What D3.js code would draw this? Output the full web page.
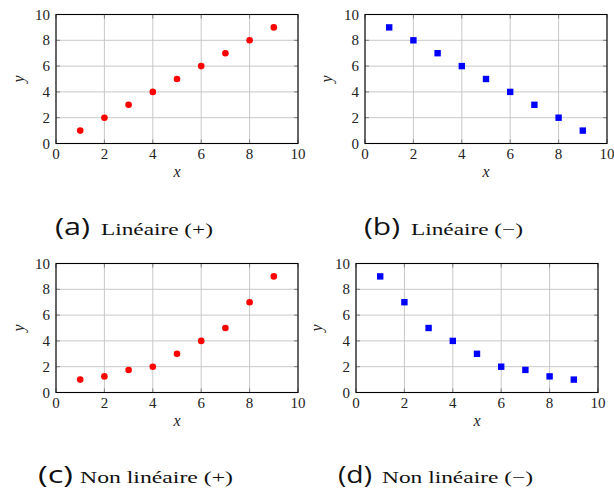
<!DOCTYPE html>
<html>
<head>
<meta charset="utf-8">
<script src="https://cdn.jsdelivr.net/npm/d3@7"></script>
<style>
  body { margin: 0; background: #fff; }
  svg { display: block; }
  .serif { font-family: "Liberation Serif", "Times New Roman", "DejaVu Serif", serif; }
  .sans { font-family: "Open Sans", "Noto Sans", sans-serif; }
</style>
</head>
<body>
<div id="chart"></div>
<script>
const xs = [1, 2, 3, 4, 5, 6, 7, 8, 9];
const linUp = [1, 2, 3, 4, 5, 6, 7, 8, 9];
const linDown = [9, 8, 7, 6, 5, 4, 3, 2, 1];
const nonLinUp = [1, 1.25, 1.75, 2, 3, 4, 5, 7, 9];
const nonLinDown = [9, 7, 5, 4, 3, 2, 1.75, 1.25, 1];
const tickValues = [0, 2, 4, 6, 8, 10];
const tags = ["(a)", "(b)", "(c)", "(d)"];
const captions = ["Linéaire (+)", "Linéaire (−)", "Non linéaire (+)", "Non linéaire (−)"];

// layout of the four subfigures (pixel boxes)
const panels = [
    {vals: linUp, marker: "circle", box: [56, 14.5, 298, 143.5], ylab: 20, tag: [55, 90], cap: [101, 213], base: 235},
    {vals: linDown, marker: "square", box: [365, 14.5, 607, 143.5], ylab: 328, tag: [364, 400], cap: [411, 523], base: 235},
    {vals: nonLinUp, marker: "circle", box: [56, 263.5, 298, 392.5], ylab: 20, tag: [38, 73], cap: [80, 233], base: 483},
    {vals: nonLinDown, marker: "square", box: [356, 263.5, 598, 392.5], ylab: 318, tag: [338, 372], cap: [382, 533], base: 483}
];

const svg = d3.select("#chart").append("svg")
    .attr("width", 614)
    .attr("height", 493);

panels.forEach((p, i) => {
    const [x0, y0, x1, y1] = p.box;
    const x = d3.scaleLinear().domain([0, 10]).range([x0, x1]);
    const y = d3.scaleLinear().domain([0, 10]).range([y1, y0]);
    const g = svg.append("g");

    // grid
    g.append("g").selectAll("line").data(tickValues).join("line")
        .attr("x1", d => x(d)).attr("x2", d => x(d))
        .attr("y1", y0).attr("y2", y1)
        .attr("stroke", "#c8c8c8").attr("stroke-width", 1);
    g.append("g").selectAll("line").data(tickValues).join("line")
        .attr("y1", d => y(d)).attr("y2", d => y(d))
        .attr("x1", x0).attr("x2", x1)
        .attr("stroke", "#c8c8c8").attr("stroke-width", 1);

    // inner ticks on all four sides
    const tk = 4;
    const ticks = g.append("g").attr("stroke", "#808080").attr("stroke-width", 1);
    tickValues.forEach(t => {
        ticks.append("line").attr("x1", x(t)).attr("x2", x(t)).attr("y1", y1).attr("y2", y1 - tk);
        ticks.append("line").attr("x1", x(t)).attr("x2", x(t)).attr("y1", y0).attr("y2", y0 + tk);
        ticks.append("line").attr("y1", y(t)).attr("y2", y(t)).attr("x1", x0).attr("x2", x0 + tk);
        ticks.append("line").attr("y1", y(t)).attr("y2", y(t)).attr("x1", x1).attr("x2", x1 - tk);
    });

    // frame
    g.append("rect")
        .attr("x", x0).attr("y", y0)
        .attr("width", x1 - x0).attr("height", y1 - y0)
        .attr("fill", "none").attr("stroke", "#000").attr("stroke-width", 1.1);

    // tick labels
    g.append("g").selectAll("text").data(tickValues).join("text")
        .attr("class", "serif")
        .attr("x", d => x(d)).attr("y", y1 + 15)
        .attr("text-anchor", "middle")
        .attr("font-size", 15).attr("fill", "#222")
        .text(d => d);
    g.append("g").selectAll("text").data(tickValues).join("text")
        .attr("class", "serif")
        .attr("x", x0 - 6).attr("y", d => y(d))
        .attr("dy", "0.34em")
        .attr("text-anchor", "end")
        .attr("font-size", 15).attr("fill", "#222")
        .text(d => d);

    // axis labels
    g.append("text")
        .attr("class", "serif")
        .attr("x", (x0 + x1) / 2).attr("y", y1 + 33)
        .attr("text-anchor", "middle")
        .attr("font-size", 16).attr("font-style", "italic").attr("fill", "#222")
        .text("x");
    g.append("text")
        .attr("class", "serif")
        .attr("transform", `translate(${p.ylab + 4},${(y0 + y1) / 2}) rotate(-90)`)
        .attr("text-anchor", "middle")
        .attr("font-size", 16).attr("font-style", "italic").attr("fill", "#222")
        .text("y");

    // markers
    const pts = xs.map((v, j) => ({x: v, y: p.vals[j]}));
    if (p.marker === "circle") {
        g.append("g").selectAll("circle").data(pts).join("circle")
            .attr("cx", d => x(d.x)).attr("cy", d => y(d.y))
            .attr("r", 3.3).attr("fill", "#ff0000");
    } else {
        const s = 6.4;
        g.append("g").selectAll("rect").data(pts).join("rect")
            .attr("x", d => x(d.x) - s / 2).attr("y", d => y(d.y) - s / 2)
            .attr("width", s).attr("height", s).attr("fill", "#0000ff");
    }

    // caption
    svg.append("text")
        .attr("class", "sans")
        .attr("x", p.tag[0]).attr("y", p.base)
        .attr("textLength", p.tag[1] - p.tag[0])
        .attr("lengthAdjust", "spacingAndGlyphs")
        .attr("font-size", 23).attr("fill", "#111")
        .text(tags[i]);
    svg.append("text")
        .attr("class", "serif")
        .attr("x", p.cap[0]).attr("y", p.base)
        .attr("textLength", p.cap[1] - p.cap[0])
        .attr("lengthAdjust", "spacingAndGlyphs")
        .attr("font-size", 17.5).attr("fill", "#111")
        .text(captions[i]);
});
</script>
</body>
</html>
